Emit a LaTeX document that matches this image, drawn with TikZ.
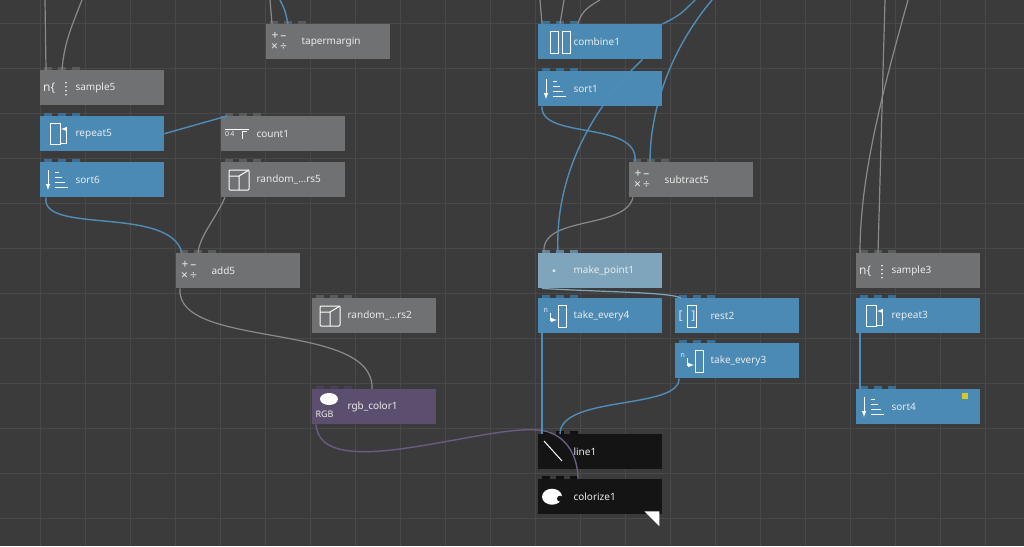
\documentclass[tikz,border=0pt]{standalone}
\usepackage{fontspec}
\setmainfont{Noto Sans}
\usetikzlibrary{positioning,calc}
\definecolor{bg}{HTML}{3B3B3B}
\definecolor{gridc}{HTML}{494949}
\definecolor{ndgray}{HTML}{707172}
\definecolor{ndblue}{HTML}{4A8AB5}
\definecolor{ndlight}{HTML}{7EA5BC}
\definecolor{ndpurple}{HTML}{5C4E6E}
\definecolor{ndblack}{HTML}{141414}
\definecolor{wiregray}{HTML}{8A8A8A}
\definecolor{wireblue}{HTML}{4F8DB8}
\definecolor{wirepurple}{HTML}{6B5A82}
\tikzset{
  nd/.style={draw=none, anchor=north west, minimum width=124pt, minimum height=35pt, inner sep=0pt},
  lbl/.style={text=white!92!black, font=\fontsize{10}{12}\selectfont, anchor=west},
  ico/.style={draw=white, line width=1pt},
  wg/.style={wiregray, line width=1.2pt},
  wb/.style={wireblue, line width=1.4pt},
  wp/.style={wirepurple, line width=1.4pt},
}
% box with label and three port tabs
\newcommand{\opnode}[5]{%
  \node[nd, fill=#2] (#1) at (#3,#4) {};
  \foreach \t in {4,18,32}
    \fill[#2!80!black] ([xshift=\t pt]#1.north west) rectangle ++(8pt,3pt);
  \node[lbl] (#1-t) at ([xshift=32pt]#1.west) {#5};
}
\begin{document}
\begin{tikzpicture}[x=1pt,y=-1pt]
\useasboundingbox (0,0) rectangle (1024,546);
\fill[bg] (0,0) rectangle (1024,546);
\foreach \x in {40,85,...,1020} \draw[gridc, line width=0.8pt] (\x,0) -- (\x,546);
\foreach \y in {23,68,...,546} \draw[gridc, line width=0.8pt] (0,\y) -- (1024,\y);

% nodes
\opnode{tapermargin}{ndgray}{266}{24}{tapermargin}
\opnode{combine1}{ndblue}{538}{24}{combine1}
\opnode{sort1}{ndblue}{538}{71}{sort1}
\opnode{sample5}{ndgray}{40}{70}{sample5}
\opnode{repeat5}{ndblue}{40}{116}{repeat5}
\opnode{count1}{ndgray}{221}{116}{count1}
\opnode{sort6}{ndblue}{40}{162}{sort6}
\opnode{rnd5}{ndgray}{221}{162}{random\_...rs5}
\opnode{subtract5}{ndgray}{629}{162}{subtract5}
\opnode{add5}{ndgray}{176}{253}{add5}
\opnode{makepoint1}{ndlight}{538}{253}{make\_point1}
\opnode{sample3}{ndgray}{856}{253}{sample3}
\opnode{rnd2}{ndgray}{312}{298}{random\_...rs2}
\opnode{takeevery4}{ndblue}{538}{298}{take\_every4}
\opnode{rest2}{ndblue}{675}{298}{rest2}
\opnode{repeat3}{ndblue}{856}{298}{repeat3}
\opnode{takeevery3}{ndblue}{675}{343}{take\_every3}
\opnode{rgbcolor1}{ndpurple}{312}{389}{rgb\_color1}
\opnode{sort4}{ndblue}{856}{389}{sort4}
\opnode{line1}{ndblack}{538}{434}{line1}
\opnode{colorize1}{ndblack}{538}{479}{colorize1}
\fill[yellow!80!black] ([xshift=-12pt,yshift=-4pt]sort4.north east) rectangle ++(-6pt,-6pt);
\fill[white] ([xshift=-3pt,yshift=3pt]colorize1.south east) -- ++(0,-15pt) -- ++(-15pt,15pt) -- cycle;

% icons
\foreach \n in {sample5,sample3} {
  \node[lbl, font=\bfseries\large, inner sep=0pt] at ([xshift=3pt]\n.west) {n\{};
  \foreach \k in {-7,-3,1,5} \fill[white] ([xshift=26pt,yshift=\k pt]\n.west) circle (0.9pt);
}
\foreach \n in {sort6,sort1,sort4} {
  \draw[ico, -latex] ([xshift=8pt,yshift=-8pt]\n.north west) -- ++(0,-20pt);
  \foreach \k/\w in {0/4,1/7,2/10,3/13} \draw[ico] ([xshift=15pt,yshift=-10pt-5*\k pt]\n.north west) -- ++(\w pt,0);
}
\foreach \n in {repeat5,repeat3} {
  \draw[ico] ([xshift=10pt,yshift=-7pt]\n.north west) rectangle ++(10pt,-21pt);
  \draw[ico, -latex] ([xshift=20pt,yshift=-27pt]\n.north west) -- ++(6pt,0) -- ++(0,14pt) -- ++(-5pt,0);
}
\foreach \n in {add5,subtract5,tapermargin} {
  \node[lbl, font=\bfseries\fontsize{12}{11}\selectfont, align=center, inner sep=0pt] at ([xshift=5pt]\n.west) {+\,–\\×\,÷};
}
\foreach \n in {rnd5,rnd2} {
  \draw[ico, rounded corners=1pt] ([xshift=8pt,yshift=-8pt]\n.north west) rectangle ++(20pt,-20pt);
  \draw[ico] ([xshift=8pt,yshift=-14pt]\n.north west) -- ++(10pt,0) -- ++(10pt,6pt) ([xshift=18pt,yshift=-14pt]\n.north west) -- ++(0,-14pt);
}
\node[lbl, font=\bfseries\scriptsize, inner sep=0pt] at ([xshift=4pt]count1.west) {0\,4};
\draw[ico] ([xshift=4pt,yshift=4pt]count1.west) -- ++(24pt,0);
\draw[ico] ([xshift=21pt,yshift=-5pt]count1.west) -- ++(0,7pt) -- ++(5pt,0);
\draw[ico] ([xshift=12pt,yshift=-7pt]combine1.north west) rectangle ++(8pt,-22pt);
\draw[ico] ([xshift=24pt,yshift=-7pt]combine1.north west) rectangle ++(8pt,-22pt);
\fill[white] ([xshift=16pt]makepoint1.west) circle (1.6pt);
\fill[ndlight] ([xshift=16pt]makepoint1.west) circle (0.7pt);
\foreach \n in {takeevery4,takeevery3} {
  \node[lbl, font=\bfseries\scriptsize] at ([xshift=2pt,yshift=5pt]\n.west) {n};
  \draw[ico] ([xshift=20pt,yshift=-7pt]\n.north west) rectangle ++(8pt,-22pt);
  \draw[ico, -latex] ([xshift=12pt,yshift=-15pt]\n.north west) -- ++(0,-7pt) -- ++(7pt,0);
}
\draw[ico] ([xshift=12pt,yshift=-7pt]rest2.north west) rectangle ++(9pt,-22pt);
\node[lbl, font=\large\bfseries] at ([xshift=0pt]rest2.west) {[\hspace{9pt}]};
\node[lbl, font=\bfseries\small] at ([xshift=0pt,yshift=-8pt]rgbcolor1.west) {RGB};
\fill[white] ([xshift=17pt,yshift=-10pt]rgbcolor1.north west) ellipse (9pt and 6pt);
\draw[ico] ([xshift=6pt,yshift=-7pt]line1.north west) -- ++(18pt,-20pt);
\fill[white] ([xshift=14pt]colorize1.west) ellipse (10pt and 8pt);
\fill[ndblack] ([xshift=22pt,yshift=-2pt]colorize1.west) circle (3pt);

% wires
\draw[wg] (45,0) -- ([xshift=6pt]sample5.north west);
\draw[wg] (82,0) .. controls (70,30) and (64,45) .. ([xshift=22pt]sample5.north west);
\draw[wb] (280,0) .. controls (285,10) .. ([xshift=22pt]tapermargin.north west);
\draw[wg] (270,0) -- ([xshift=6pt]tapermargin.north west);
\draw[wb] (repeat5.east) -- ([xshift=6pt]count1.north west);
\draw[wb] ([xshift=6pt]sort6.south west) .. controls (40,235) and (170,205) .. ([xshift=6pt]add5.north west);
\draw[wg] ([xshift=4pt]rnd5.south west) .. controls (215,220) and (200,235) .. ([xshift=22pt]add5.north west);
\draw[wg] ([xshift=4pt]add5.south west) .. controls (175,350) and (375,320) .. ([xshift=60pt]rgbcolor1.north west);
\draw[wp] ([xshift=4pt]rgbcolor1.south west) .. controls (320,485) and (480,425) .. (538,430) .. controls (565,432) and (578,455) .. ([xshift=40pt]colorize1.north west);
\draw[wb] ([xshift=4pt]takeevery4.south west) -- ([xshift=4pt]line1.north west);
\draw[wb] ([xshift=4pt]takeevery3.south west) .. controls (680,410) and (560,395) .. ([xshift=22pt]line1.north west);
\draw[wg, ndlight] ([xshift=4pt]makepoint1.south west) .. controls (600,292) and (670,292) .. ([xshift=6pt]rest2.north west);
\draw[wg] ([xshift=4pt]subtract5.south west) .. controls (625,230) and (540,215) .. ([xshift=6pt]makepoint1.north west);
\draw[wb] ([xshift=4pt]sort1.south west) .. controls (540,140) and (640,120) .. ([xshift=6pt]subtract5.north west);
\draw[wb] ([xshift=-20pt]combine1.south east) .. controls (580,120) and (555,190) .. ([xshift=20pt]makepoint1.north west);
\draw[wb] (712,0) .. controls (670,50) and (650,110) .. ([xshift=21pt]subtract5.north west);
\draw[wb] (695,0) .. controls (680,15) .. (combine1.north east);
\draw[wg] (540,0) -- ([xshift=4pt]combine1.north west);
\draw[wg] (564,0) -- ([xshift=22pt]combine1.north west);
\draw[wg] (600,0) .. controls (585,8) and (580,15) .. ([xshift=40pt]combine1.north west);
\draw[wg] (885,0) -- ([xshift=22pt]sample3.north west);
\draw[wg] (908,0) .. controls (880,100) and (860,180) .. ([xshift=4pt]sample3.north west);
\draw[wb] ([xshift=4pt]repeat3.south west) -- ([xshift=4pt]sort4.north west);
\end{tikzpicture}
\end{document}
